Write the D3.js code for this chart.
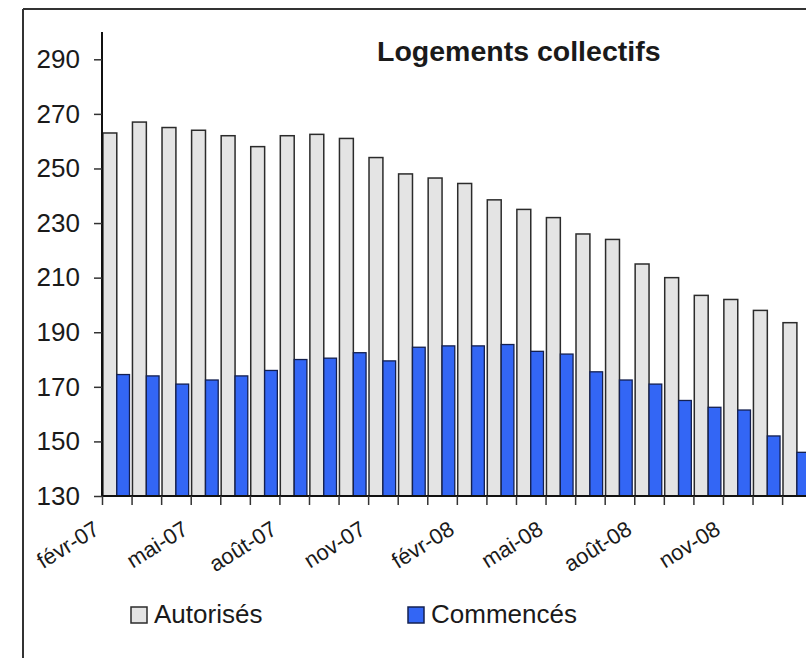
<!DOCTYPE html>
<html>
<head>
<meta charset="utf-8">
<script src="https://cdn.jsdelivr.net/npm/d3@7"></script>
<style>
  body { margin: 0; background: #fff; }
  text { font-family: "Liberation Sans", Arial, sans-serif; fill: #1a1a1a; }
</style>
</head>
<body>
<div id="chart"></div>
<script>
// Data
const months = ["févr-07", "mars-07", "avr-07", "mai-07", "juin-07", "juil-07", "août-07", "sept-07",
  "oct-07", "nov-07", "déc-07", "janv-08", "févr-08", "mars-08", "avr-08", "mai-08", "juin-08",
  "juil-08", "août-08", "sept-08", "oct-08", "nov-08", "déc-08", "janv-09"];
const autorises = [263, 267, 265, 264, 262, 258, 262, 262.5, 261, 254, 248, 246.5, 244.5, 238.5,
  235, 232, 226, 224, 215, 210, 203.5, 202, 198, 193.5];
const commences = [174.5, 174, 171, 172.5, 174, 176, 180, 180.5, 182.5, 179.5, 184.5, 185, 185,
  185.5, 183, 182, 175.5, 172.5, 171, 165, 162.5, 161.5, 152, 146];
const yTicks = [130, 150, 170, 190, 210, 230, 250, 270, 290];
const shownLabels = ["févr-07", "mai-07", "août-07", "nov-07", "févr-08", "mai-08", "août-08", "nov-08"];
const seriesNames = ["Autorisés", "Commencés"];

// Dimensions
let dimensions = {
  width: 806,
  height: 658,
  left: 102,
  top: 32,
  bottom: 496,
  step: 29.57,
};
dimensions.right = dimensions.left + dimensions.step * months.length;

const svg = d3
  .select("#chart")
  .append("svg")
  .attr("width", dimensions.width)
  .attr("height", dimensions.height);

// frame (cropped box)
svg.append("line").attr("x1", 23).attr("x2", dimensions.width).attr("y1", 9).attr("y2", 9)
  .attr("stroke", "#333").attr("stroke-width", 2);
svg.append("line").attr("x1", 23).attr("x2", 23).attr("y1", 9).attr("y2", dimensions.height)
  .attr("stroke", "#333").attr("stroke-width", 2);

// Scales
const xScale = d3.scaleBand().domain(months).range([dimensions.left, dimensions.right])
  .paddingInner(0).paddingOuter(0);
const xIdx = d3.scaleLinear().domain([0, months.length]).range([dimensions.left, dimensions.right]);
const yScale = d3.scaleLinear().domain([130, 300]).range([dimensions.bottom, dimensions.top]);
const bw = xScale.bandwidth();

// Bars
svg.append("g")
  .selectAll("rect")
  .data(months)
  .join("rect")
  .attr("x", (d) => xScale(d) + bw * 0.03)
  .attr("width", bw * 0.47)
  .attr("y", (d, i) => yScale(autorises[i]))
  .attr("height", (d, i) => yScale(130) - yScale(autorises[i]))
  .attr("fill", "#e4e4e4")
  .attr("stroke", "#2b2b2b")
  .attr("stroke-width", 1.5);

svg.append("g")
  .selectAll("rect")
  .data(months)
  .join("rect")
  .attr("x", (d) => xScale(d) + bw * 0.5)
  .attr("width", bw * 0.43)
  .attr("y", (d, i) => yScale(commences[i]))
  .attr("height", (d, i) => yScale(130) - yScale(commences[i]))
  .attr("fill", "#3366f5")
  .attr("stroke", "#142050")
  .attr("stroke-width", 1.3);

// Axes
const yAxis = d3.axisLeft(yScale).tickValues(yTicks).tickSize(8).tickPadding(14);
const yAxisGroup = svg.append("g")
  .attr("transform", `translate(${dimensions.left},0)`)
  .call(yAxis);
yAxisGroup.select(".domain").attr("d", `M0,${yScale(130)}V${yScale(300)}`)
  .attr("stroke", "#111").attr("stroke-width", 2);
yAxisGroup.selectAll(".tick line").attr("stroke", "#333").attr("stroke-width", 1.5);
yAxisGroup.selectAll(".tick text")
  .style("font-size", "26px")
  .style("font-family", "'Liberation Sans', Arial, sans-serif")
  .attr("fill", "#1a1a1a");

const xAxis = d3.axisBottom(xIdx).tickValues(d3.range(months.length + 1)).tickSize(9).tickFormat("");
const xAxisGroup = svg.append("g")
  .attr("transform", `translate(0,${dimensions.bottom})`)
  .call(xAxis);
xAxisGroup.select(".domain").attr("d", `M${dimensions.left},0H${dimensions.right}`)
  .attr("stroke", "#111").attr("stroke-width", 2);
xAxisGroup.selectAll(".tick line").attr("stroke", "#333").attr("stroke-width", 1.5);

// x labels, rotated
svg.append("g")
  .selectAll("text")
  .data(shownLabels)
  .join("text")
  .attr("text-anchor", "end")
  .attr("transform", (d) => `translate(${xScale(d) - 1},${dimensions.bottom + 37}) rotate(-32)`)
  .style("font-size", "22px")
  .text((d) => d);

// Title
svg.append("text")
  .attr("x", 377)
  .attr("y", 61)
  .style("font-size", "28.5px")
  .style("font-weight", "bold")
  .text("Logements collectifs");

// Legend
const legend = svg.append("g").attr("transform", "translate(0,607)");
const legendX = [131, 408];
const legendFill = ["#e4e4e4", "#3366f5"];
const legendStroke = ["#2b2b2b", "#142050"];
seriesNames.forEach((name, i) => {
  legend.append("rect")
    .attr("x", legendX[i])
    .attr("y", 0)
    .attr("width", 16)
    .attr("height", 16)
    .attr("fill", legendFill[i])
    .attr("stroke", legendStroke[i])
    .attr("stroke-width", 1.5);
  legend.append("text")
    .attr("x", legendX[i] + 23)
    .attr("y", 16)
    .style("font-size", "26px")
    .text(name);
});
</script>
</body>
</html>
